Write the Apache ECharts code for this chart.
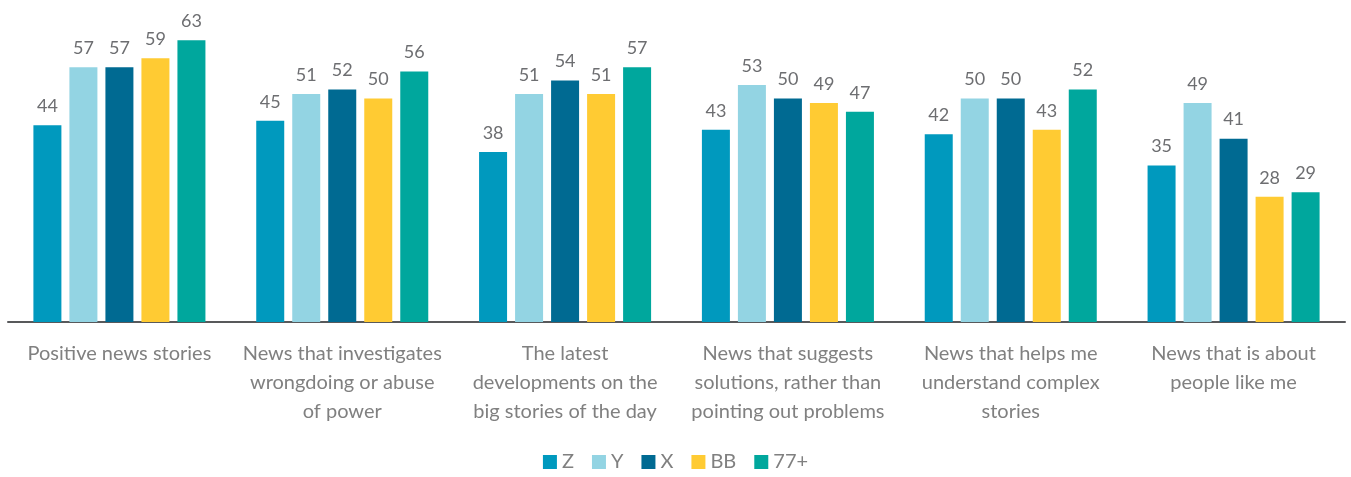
<!DOCTYPE html>
<html><head><meta charset="utf-8">
<script src="https://cdn.jsdelivr.net/npm/echarts@6/dist/echarts.min.js"></script>
<style>html,body{margin:0;padding:0;background:#fff}#c{width:1351px;height:477px}</style>
</head><body><div id="c"></div>
<script>
const categories = [
  "Positive news stories",
  "News that investigates\nwrongdoing or abuse\nof power",
  "The latest\ndevelopments on the\nbig stories of the day",
  "News that suggests\nsolutions, rather than\npointing out problems",
  "News that helps me\nunderstand complex\nstories",
  "News that is about\npeople like me"
];
const seriesNames = ["Z", "Y", "X", "BB", "77+"];
const seriesColors = ["#0099BE", "#93D4E3", "#006A92", "#FFCB33", "#00A79D"];
const valuesZ = [44, 45, 38, 43, 42, 35];
const valuesY = [57, 51, 51, 53, 50, 49];
const valuesX = [57, 52, 54, 50, 50, 41];
const valuesBB = [59, 50, 51, 49, 43, 28];
const values77 = [63, 56, 57, 47, 52, 29];
const allValues = [valuesZ, valuesY, valuesX, valuesBB, values77];

const font = "Lato, 'Open Sans', sans-serif";
const chart = echarts.init(document.getElementById('c'));
chart.setOption({
  animation: false,
  grid: { left: 8, right: 6, top: 9, bottom: 155, containLabel: false },
  legend: {
    bottom: 0, left: 'center',
    itemWidth: 14, itemHeight: 14, itemGap: 18,
    icon: 'rect',
    textStyle: { color: '#808080', fontSize: 20, fontFamily: font },
    data: seriesNames
  },
  xAxis: {
    type: 'category',
    data: categories,
    axisLine: { lineStyle: { color: '#58595b', width: 2 } },
    axisTick: { show: false },
    axisLabel: { color: '#808080', fontSize: 20, fontFamily: font, lineHeight: 29, margin: 17, interval: 0 }
  },
  yAxis: { type: 'value', min: 0, max: 70, show: false, splitLine: { show: false } },
  series: seriesNames.map((n, i) => ({
    name: n, type: 'bar', data: allValues[i],
    itemStyle: { color: seriesColors[i] },
    barGap: '28.6%', barCategoryGap: '22.8%',
    label: { show: true, position: 'top', distance: 10, color: '#6d6e71', fontSize: 18, fontFamily: font }
  }))
});
</script></body></html>
